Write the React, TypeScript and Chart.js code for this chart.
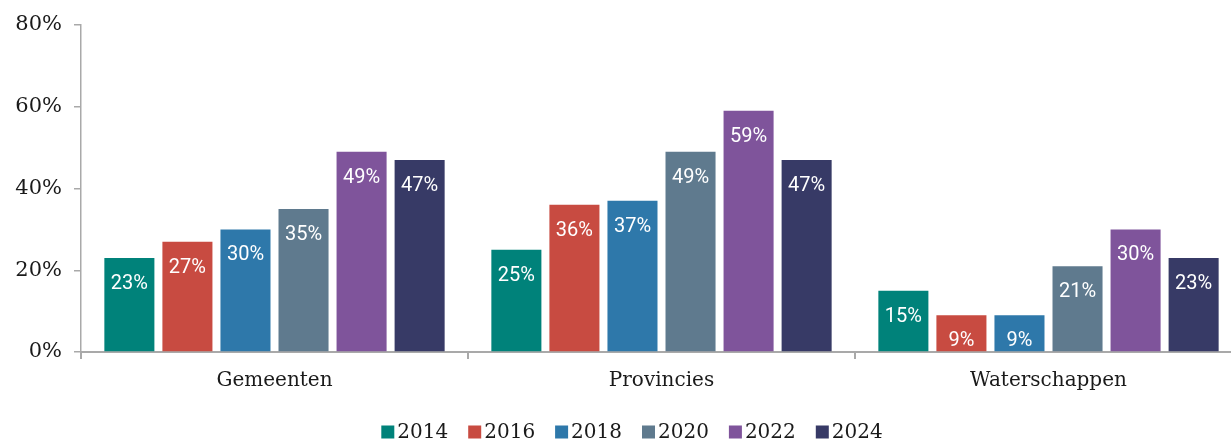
import React, { useEffect, useRef } from "react";
import { Chart, registerables } from "chart.js";

Chart.register(...registerables);

const categories = ["Gemeenten", "Provincies", "Waterschappen"];
const years = ["2014", "2016", "2018", "2020", "2022", "2024"];
const s2014 = [23, 25, 15];
const s2016 = [27, 36, 9];
const s2018 = [30, 37, 9];
const s2020 = [35, 49, 21];
const s2022 = [49, 59, 30];
const s2024 = [47, 47, 23];
const yTicks = [0, 20, 40, 60, 80];

const seriesValues = [s2014, s2016, s2018, s2020, s2022, s2024];
const colors = ["#00827A", "#C84B41", "#2E78AA", "#5F7A8E", "#7F549B", "#373A66"];

const SERIF = "'DejaVu Serif', 'Liberation Serif', serif";
const SANS = "Roboto, 'Noto Sans', sans-serif";

const barLabels = {
  id: "barLabels",
  afterDatasetsDraw(chart: any) {
    const ctx = chart.ctx;
    ctx.save();
    ctx.font = `400 20px ${SANS}`;
    ctx.fillStyle = "#ffffff";
    ctx.textAlign = "center";
    ctx.textBaseline = "middle";
    chart.data.datasets.forEach((ds: any, i: number) => {
      const meta = chart.getDatasetMeta(i);
      meta.data.forEach((el: any, j: number) => {
        ctx.fillText(`${ds.data[j]}%`, el.x, el.y + 26);
      });
    });
    ctx.restore();
  },
};

const customLegend = {
  id: "customLegend",
  afterDraw(chart: any) {
    const ctx = chart.ctx;
    ctx.save();
    ctx.font = `20px ${SERIF}`;
    ctx.textBaseline = "middle";
    ctx.textAlign = "left";
    const box = 13;
    const gap = 3;
    const itemGap = 20;
    const items = chart.data.datasets.map((ds: any) => ({
      label: ds.label,
      color: ds.backgroundColor,
      w: box + gap + ctx.measureText(ds.label).width,
    }));
    const total = items.reduce((a: number, it: any) => a + it.w, 0) + itemGap * (items.length - 1);
    let x = 632 - total / 2;
    const cy = 432;
    items.forEach((it: any) => {
      ctx.fillStyle = it.color;
      ctx.fillRect(x, cy - box / 2, box, box);
      ctx.fillStyle = "#1a1a1a";
      ctx.fillText(it.label, x + box + gap, cy + 1);
      x += it.w + itemGap;
    });
    ctx.restore();
  },
};

export default function App() {
  const ref = useRef<HTMLCanvasElement | null>(null);

  useEffect(() => {
    if (!ref.current) return;
    const chart = new Chart(ref.current, {
      type: "bar",
      data: {
        labels: categories,
        datasets: years.map((y, i) => ({
          label: y,
          data: seriesValues[i],
          backgroundColor: colors[i],
          borderWidth: 0,
          categoryPercentage: 0.9,
          barPercentage: 0.862,
        })),
      },
      options: {
        animation: false,
        responsive: false,
        maintainAspectRatio: false,
        layout: { padding: { top: 25, bottom: 32, left: 0, right: 0 } },
        plugins: {
          legend: { display: false },
          tooltip: { enabled: false },
          title: { display: false },
        },
        scales: {
          x: {
            grid: {
              display: true,
              offset: true,
              drawOnChartArea: false,
              drawTicks: true,
              tickLength: 7,
              color: "#a9a9a9",
              lineWidth: 2,
            },
            border: { display: true, color: "#a9a9a9", width: 2 },
            ticks: {
              font: { family: SERIF, size: 20 },
              color: "#1a1a1a",
              padding: 10,
            },
            afterFit(scale: any) {
              scale.height = 55;
            },
          },
          y: {
            min: 0,
            max: 80,
            afterBuildTicks(scale: any) {
              scale.ticks = yTicks.map((v) => ({ value: v }));
            },
            grid: {
              display: true,
              drawOnChartArea: false,
              drawTicks: true,
              tickLength: 7,
              color: "#a9a9a9",
              lineWidth: 1.5,
            },
            border: { display: true, color: "#a9a9a9", width: 1.5 },
            ticks: {
              font: { family: SERIF, size: 21 },
              color: "#1a1a1a",
              padding: 12,
              callback: (v: any) => `${v}%`,
            },
            afterFit(scale: any) {
              scale.width = 81;
            },
          },
        },
      },
      plugins: [barLabels, customLegend],
    });
    return () => chart.destroy();
  }, []);

  return (
    <div
      style={{
        position: "fixed",
        left: 0,
        top: 0,
        width: 1231,
        height: 439,
        overflow: "hidden",
        background: "#ffffff",
      }}
    >
      <canvas ref={ref} width={1242} height={439} style={{ display: "block", width: 1242, height: 439 }} />
    </div>
  );
}
